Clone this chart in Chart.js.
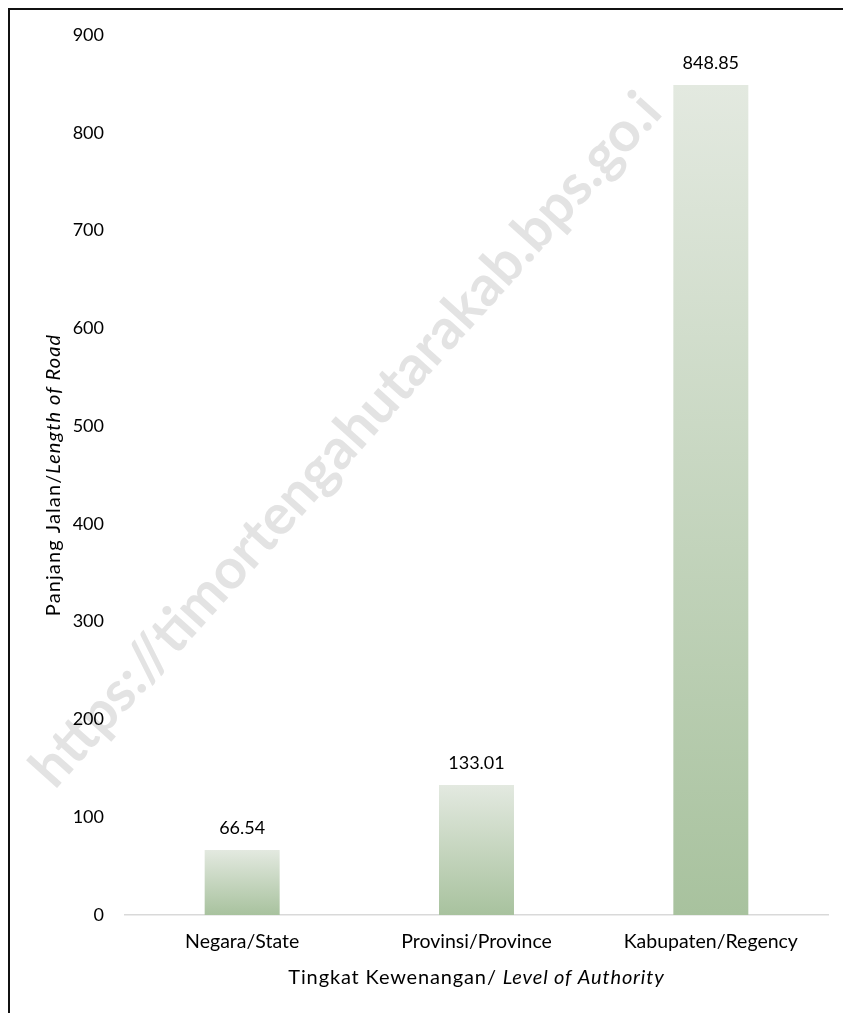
<!DOCTYPE html>
<html>
<head>
<meta charset="utf-8">
<script src="https://cdn.jsdelivr.net/npm/chart.js@4.4.1/dist/chart.umd.min.js"></script>
<style>
  body { margin: 0; background: #fff; }
  canvas { display: block; }
</style>
</head>
<body>
<canvas id="roadchart" width="843" height="1013"></canvas>
<script>
const levels = ['Negara/State', 'Provinsi/Province', 'Kabupaten/Regency'];
const roadLength = [66.54, 133.01, 848.85];
const yTicks = [0, 100, 200, 300, 400, 500, 600, 700, 800, 900];

const FONT = 'Lato, "Liberation Sans", sans-serif';

// frame + watermark behind everything
const background = {
  id: 'background',
  beforeDraw(chart) {
    const c = chart.ctx;
    c.save();
    c.fillStyle = '#fff';
    c.fillRect(0, 0, chart.width, chart.height);
    c.strokeStyle = '#111';
    c.lineWidth = 2;
    c.strokeRect(9, 9, 900, 1100);

    c.translate(346, 440);
    c.rotate(-48 * Math.PI / 180);
    c.fillStyle = '#e3e3e3';
    c.font = 'bold 56px ' + FONT;
    c.textAlign = 'center';
    c.textBaseline = 'middle';
    c.fillText('https://timortengahutarakab.bps.go.i', 0, 0);
    c.restore();
  }
};

// value labels and axis titles (titles mix upright and italic)
const labels = {
  id: 'labels',
  afterDatasetsDraw(chart) {
    const c = chart.ctx;
    const meta = chart.getDatasetMeta(0);
    c.save();
    c.fillStyle = '#000';
    c.font = '18px ' + FONT;
    c.textAlign = 'center';
    c.textBaseline = 'middle';
    meta.data.forEach((bar, i) => {
      c.fillText(roadLength[i].toFixed(2), bar.x, bar.y - 22);
    });

    const area = chart.chartArea;
    drawMixed(c, 'Tingkat Kewenangan/ ', 'Level of Authority', (area.left + area.right) / 2, 978, 0, 0.85);
    drawMixed(c, 'Panjang Jalan/', 'Length of Road', 54, (area.top + area.bottom) / 2, -Math.PI / 2, 1.1);
    c.restore();
  }
};

function drawMixed(c, plain, italic, x, y, angle, spacing) {
  c.save();
  c.translate(x, y);
  c.rotate(angle);
  c.textBaseline = 'middle';
  c.textAlign = 'left';
  c.letterSpacing = spacing + 'px';
  c.font = '20px ' + FONT;
  const w1 = c.measureText(plain).width;
  c.font = 'italic 20px ' + FONT;
  const w2 = c.measureText(italic).width;
  let start = -(w1 + w2) / 2;
  c.font = '20px ' + FONT;
  c.fillText(plain, start, 0);
  c.font = 'italic 20px ' + FONT;
  c.fillText(italic, start + w1, 0);
  c.restore();
}

const ctx = document.getElementById('roadchart').getContext('2d');
const roadChart = new Chart(ctx, {
  type: 'bar',
  data: {
    labels: levels,
    datasets: [{
      data: roadLength,
      backgroundColor: function(context) {
        const chart = context.chart;
        if (!chart.chartArea || !chart.scales.y) return '#b9cfb1';
        const y = chart.scales.y;
        const top = y.getPixelForValue(context.raw);
        const base = y.getPixelForValue(0);
        const g = chart.ctx.createLinearGradient(0, top, 0, base);
        g.addColorStop(0, '#e3e9e0');
        g.addColorStop(1, '#a8c29e');
        return g;
      },
      borderWidth: 0,
      categoryPercentage: 1,
      barPercentage: 0.32
    }]
  },
  options: {
    responsive: false,
    animation: false,
    layout: { padding: { top: 35, right: 15, left: 0, bottom: 0 } },
    plugins: {
      legend: { display: false },
      tooltip: { enabled: false }
    },
    scales: {
      x: {
        grid: { display: false, drawTicks: false },
        border: { color: '#d9d9d9', width: 1.5 },
        ticks: { color: '#000', font: { family: FONT, size: 19.5 }, padding: 15 },
        afterFit(scale) { scale.height = 98; }
      },
      y: {
        min: 0,
        max: 900,
        grid: { display: false, drawTicks: false },
        border: { display: false },
        afterBuildTicks(scale) { scale.ticks = yTicks.map(v => ({ value: v })); },
        ticks: { color: '#000', font: { family: FONT, size: 18 }, padding: 21 },
        afterFit(scale) { scale.width = 125; }
      }
    }
  },
  plugins: [background, labels]
});
</script>
</body>
</html>
